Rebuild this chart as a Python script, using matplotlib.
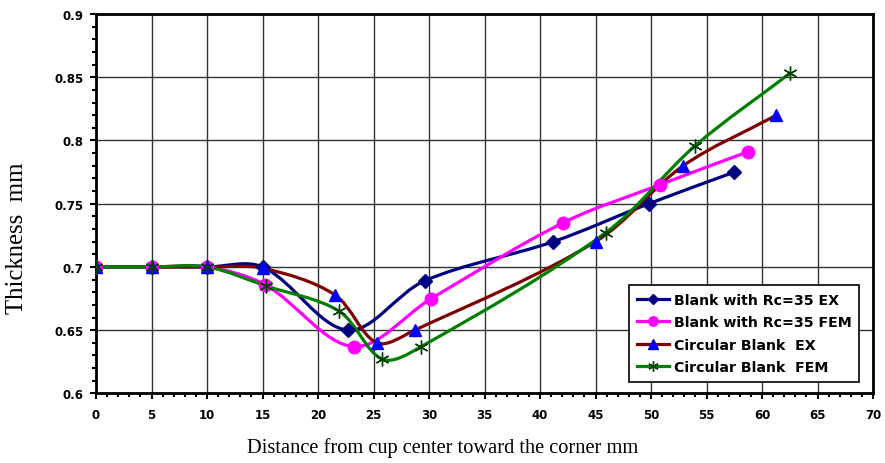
import numpy as np
import matplotlib
matplotlib.use("Agg")
import matplotlib.pyplot as plt
from matplotlib.path import Path
from matplotlib.patches import PathPatch
from matplotlib.lines import Line2D
from matplotlib.ticker import MultipleLocator

# ---- data ----
rc_ex_x = [0, 5, 10, 15, 22.7, 29.6, 41.2, 49.8, 57.5]
rc_ex_y = [0.70, 0.70, 0.70, 0.70, 0.650, 0.689, 0.720, 0.750, 0.775]

rc_fem_x = [0, 5, 10, 15.2, 23.2, 30.2, 42.1, 50.8, 58.7]
rc_fem_y = [0.70, 0.70, 0.70, 0.686, 0.637, 0.675, 0.735, 0.765, 0.791]

circ_ex_x = [0, 5, 10, 15, 21.5, 25.3, 28.7, 45.0, 52.9, 61.3]
circ_ex_y = [0.70, 0.70, 0.70, 0.699, 0.678, 0.640, 0.650, 0.720, 0.780, 0.820]

circ_fem_x = [0, 5, 10, 15.3, 21.9, 25.8, 29.3, 45.9, 54.0, 62.5]
circ_fem_y = [0.70, 0.70, 0.70, 0.685, 0.665, 0.627, 0.637, 0.727, 0.796, 0.853]

labels = ["Blank with Rc=35 EX", "Blank with Rc=35 FEM",
          "Circular Blank  EX", "Circular Blank  FEM"]

x_ticks = list(range(0, 71, 5))
y_ticks = [0.6, 0.65, 0.7, 0.75, 0.8, 0.85, 0.9]
y_ticklabels = ["0.6", "0.65", "0.7", "0.75", "0.8", "0.85", "0.9"]

# ---- figure ----
fig = plt.figure(figsize=(8.85, 4.64), dpi=100)
ax = fig.add_axes([0.1085, 0.150, 0.878, 0.8177])
ax.set_xlim(0, 70)
ax.set_ylim(0.6, 0.9)

# approximate pixel scale of the axes, used only to shape the smoothing
SX, SY = 777.0 / 70.0, 379.3 / 0.3


def smooth_path(xs, ys, k=1.0 / 3.0):
    pts = np.column_stack([np.asarray(xs) * SX, np.asarray(ys) * SY])
    n = len(pts)
    out_cp, in_cp = [], []
    for i in range(n):
        p0 = pts[i - 1] if i > 0 else pts[i]
        p2 = pts[i + 1] if i < n - 1 else pts[i]
        d0 = np.hypot(*(pts[i] - p0))
        d1 = np.hypot(*(p2 - pts[i]))
        tot = d0 + d1 if d0 + d1 > 0 else 1.0
        tan = p2 - p0
        out_cp.append(pts[i] + tan * d1 / tot * k)
        in_cp.append(pts[i] - tan * d0 / tot * k)
    verts = [pts[0]]
    codes = [Path.MOVETO]
    for i in range(n - 1):
        verts += [out_cp[i], in_cp[i + 1], pts[i + 1]]
        codes += [Path.CURVE4] * 3
    verts = np.array(verts)
    verts[:, 0] /= SX
    verts[:, 1] /= SY
    return Path(verts, codes)


series = [
    (rc_ex_x, rc_ex_y, "#000080", "D", "#000080", "#000080", 7),
    (rc_fem_x, rc_fem_y, "#FF00FF", "o", "#FF00FF", "#FF00FF", 9),
    (circ_ex_x, circ_ex_y, "#800000", "^", "#0000FF", "#0000FF", 9),
    (circ_fem_x, circ_fem_y, "#008000", (6, 2, 0), "#004000", "#004000", 10),
]

handles = []
for (xs, ys, col, mk, mfc, mec, ms), lab in zip(series, labels):
    patch = PathPatch(smooth_path(xs, ys), facecolor="none", edgecolor=col,
                      lw=2.3, zorder=3, capstyle="round", joinstyle="round")
    ax.add_patch(patch)
    ax.plot(xs, ys, linestyle="none", marker=mk, markerfacecolor=mfc,
            markeredgecolor=mec, markersize=ms, markeredgewidth=1.0, zorder=4)
    handles.append(Line2D([], [], color=col, lw=2.3, marker=mk,
                          markerfacecolor=mfc, markeredgecolor=mec,
                          markersize=ms * 0.75, markeredgewidth=1.0))

# grid & ticks
ax.set_xticks(x_ticks)
ax.set_yticks(y_ticks)
ax.set_yticklabels(y_ticklabels)
ax.xaxis.set_minor_locator(MultipleLocator(1))
ax.yaxis.set_minor_locator(MultipleLocator(0.01))
ax.grid(True, which="major", color="#333333", lw=1.0, zorder=0)
ax.set_axisbelow(True)
ax.tick_params(which="major", direction="out", length=4, width=1.5,
               labelsize=8.5)
ax.tick_params(axis="y", which="major", pad=5)
ax.tick_params(axis="x", which="major", pad=6.5)
ax.tick_params(which="minor", direction="out", length=3, width=1.5)
for lab in ax.get_xticklabels() + ax.get_yticklabels():
    lab.set_fontweight("bold")
    lab.set_fontfamily("DejaVu Sans")
for s in ax.spines.values():
    s.set_linewidth(2.0)
    s.set_color("black")

ax.set_xlabel("Distance from cup center toward the corner mm",
              fontfamily="Liberation Serif", fontsize=14.7)
ax.xaxis.set_label_coords(0.446, -0.115)
ax.set_ylabel("Thickness  mm", fontfamily="Liberation Serif", fontsize=17.8)
ax.yaxis.set_label_coords(-0.087, 0.412)

leg = ax.legend(handles, labels, loc="lower right",
                bbox_to_anchor=(0.982, 0.030), borderaxespad=0,
                frameon=True, fancybox=False,
                edgecolor="black", framealpha=1.0, handlelength=2.3,
                handletextpad=0.3, borderpad=0.55, labelspacing=0.6,
                prop={"family": "DejaVu Sans", "weight": "bold",
                      "size": 10.2})
leg.get_frame().set_linewidth(1.2)
leg.set_zorder(10)

fig.savefig("out.png", dpi=100)
